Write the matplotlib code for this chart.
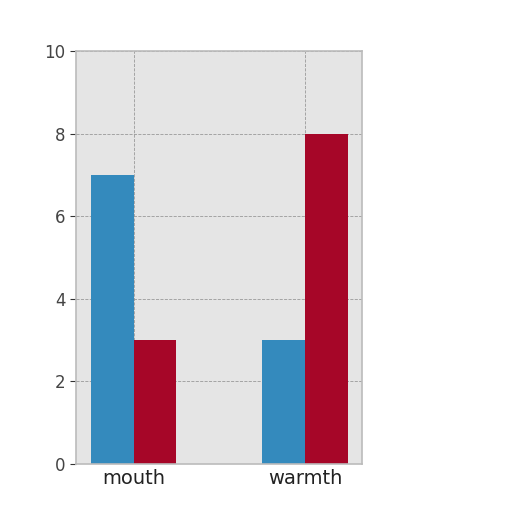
import matplotlib
matplotlib.use("Agg")
import matplotlib.pyplot as plt
import numpy as np

categories = ["mouth", "warmth"]
blue_vals = [7, 3]
red_vals = [3, 8]

fig = plt.figure(figsize=(5.12, 5.12), dpi=100)
ax = fig.add_axes([0.148, 0.094, 0.559, 0.806])

x = np.arange(len(categories))
w = 0.25
ax.bar(x - w / 2, blue_vals, w, color="#348ABD", zorder=2)
ax.bar(x + w / 2, red_vals, w, color="#A60628", zorder=2)

ax.set_facecolor("#E5E5E5")
ax.set_xlim(-0.337, 1.331)
ax.set_ylim(0, 10)
ax.set_xticks(x)
ax.set_xticklabels(categories, fontsize=14, color="#222222")
ax.set_yticks([0, 2, 4, 6, 8, 10])
ax.tick_params(axis="y", labelsize=12, labelcolor="#444444", length=4, color="#333333")
ax.tick_params(axis="x", length=0, pad=4)
ax.grid(True, color="#999999", linestyle="--", linewidth=0.6, zorder=3)
for s in ax.spines.values():
    s.set_color("#BBBBBB")
    s.set_linewidth(1.2)

fig.savefig("out.png", dpi=100)
